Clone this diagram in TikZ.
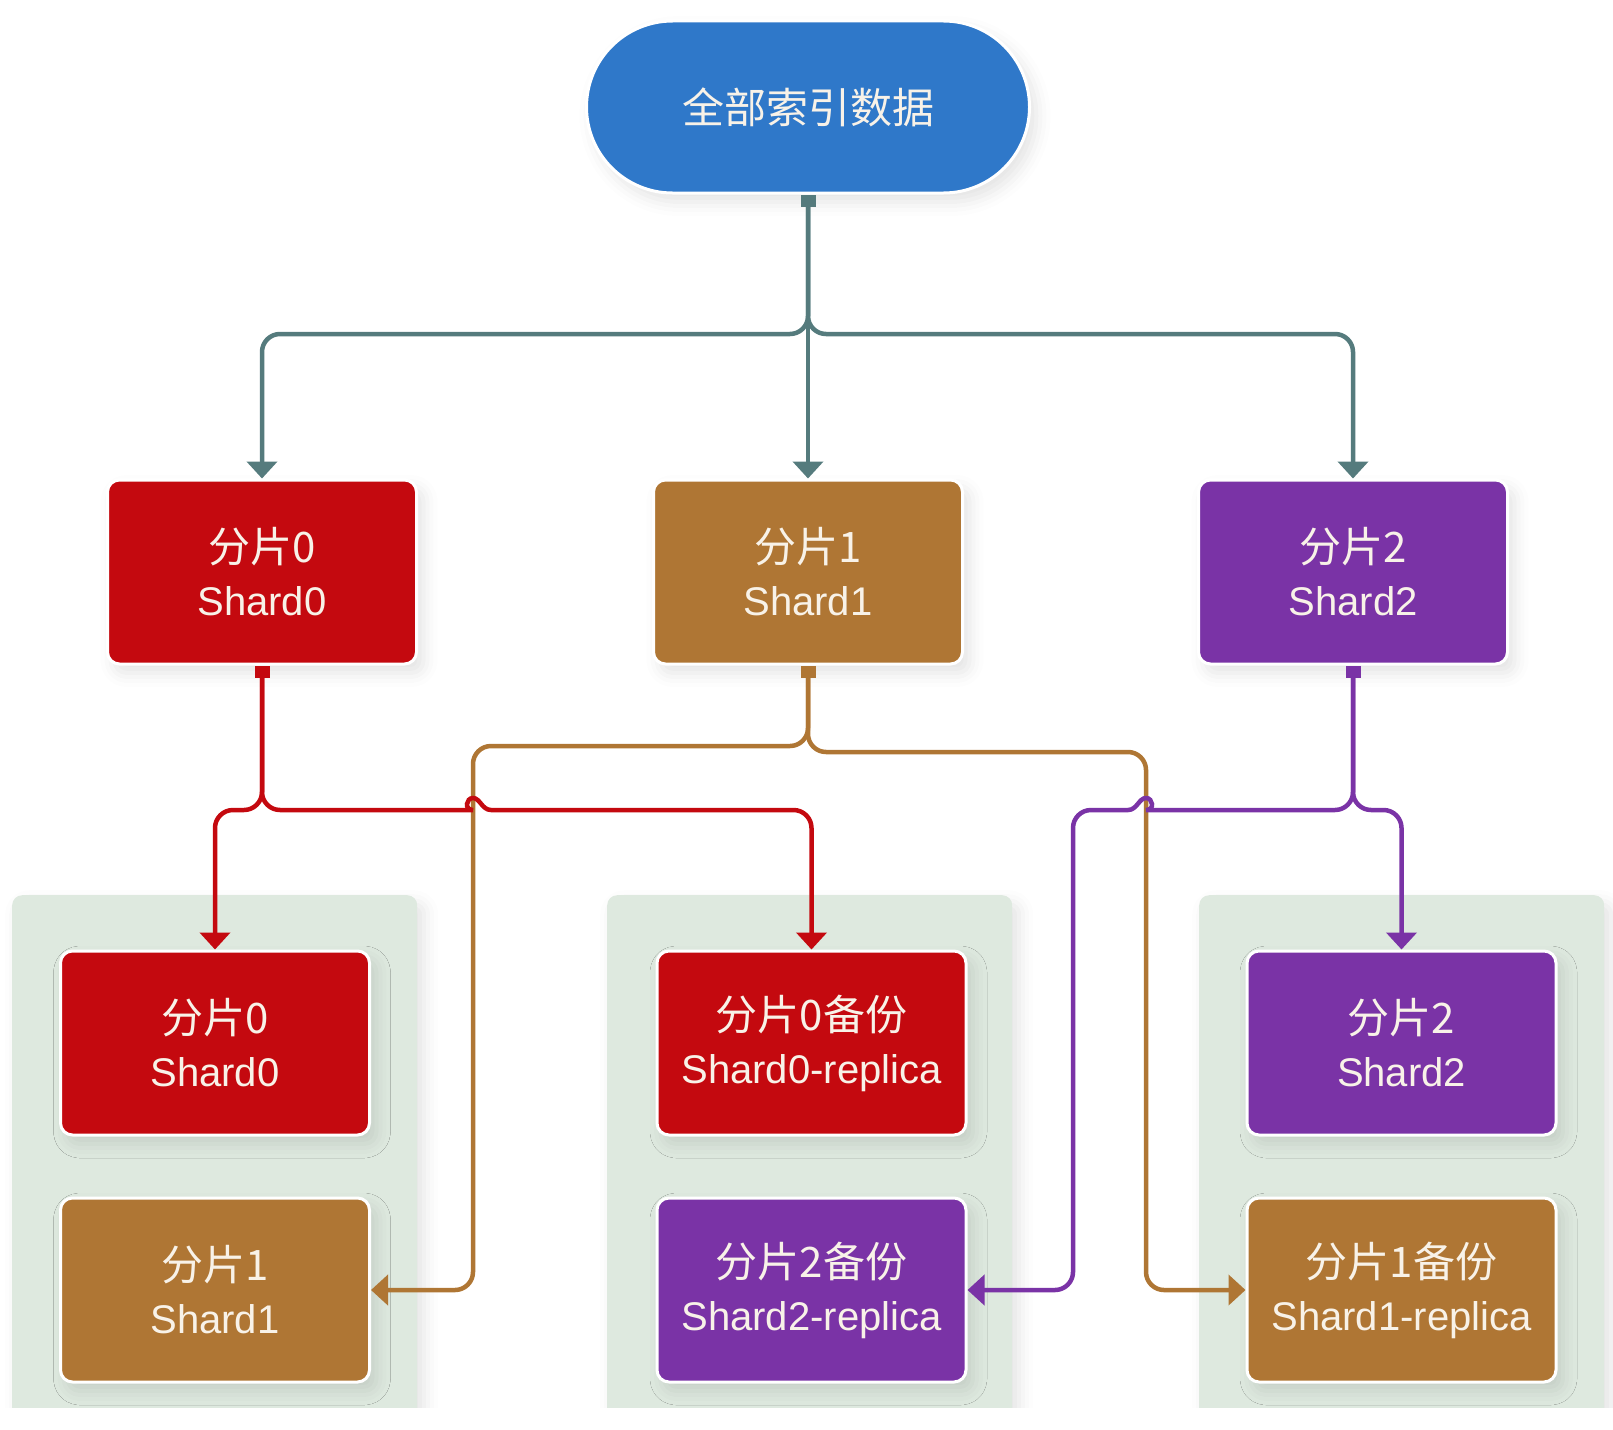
\documentclass[tikz,border=0pt]{standalone}
\usepackage{fontspec}
\setmainfont{Liberation Sans}
\newfontfamily\cjk{Noto Sans CJK SC}
\usetikzlibrary{arrows.meta,shadows.blur}

\definecolor{pillblue}{HTML}{2F78C9}
\definecolor{shred}{HTML}{C4090F}
\definecolor{shbrown}{HTML}{AF7634}
\definecolor{shpurple}{HTML}{7A33A6}
\definecolor{panelgreen}{HTML}{DEE9DF}
\definecolor{tealline}{HTML}{557B7D}
\definecolor{txtc}{HTML}{F8F2E8}

\newcommand{\cnline}[1]{{\fontsize{42}{53}\selectfont\cjk #1}}

\tikzset{
  softshadow/.style={blur shadow={shadow xshift=7pt, shadow yshift=-9pt,
      shadow blur radius=14pt, shadow opacity=11}},
  shardbox/.style={rectangle, rounded corners=12pt, minimum width=309pt,
      minimum height=184pt, draw=white, line width=3pt, text=txtc,
      align=center, inner sep=0pt, font=\fontsize{40}{53}\selectfont, softshadow},
  panelbox/.style={rectangle, rounded corners=10pt, fill=panelgreen,
      minimum width=405pt, minimum height=600pt, anchor=north west,
      inner sep=0pt, softshadow},
  conn/.style={line width=4.5pt, rounded corners=18pt,
      {Square[length=12pt,width=15pt]}-{Triangle[length=17pt,width=30pt]}},
}

\begin{document}
\begin{tikzpicture}[x=1pt,y=-1pt]
\useasboundingbox (0,0) rectangle (1613,1429);

% panels (cut at the bottom)
\begin{scope}
  \clip (-5,-5) rectangle (1620,1407);
  \node[panelbox] (p1) at (12,895) {};
  \node[panelbox] (p2) at (607,895) {};
  \node[panelbox] (p3) at (1199,895) {};
\end{scope}

% top node
\node[rectangle, rounded corners=86pt, minimum width=443pt, minimum height=172pt,
      fill=pillblue, draw=white, line width=3pt, text=txtc, inner sep=0pt, softshadow,
      font=\fontsize{42}{50}\selectfont\cjk] (top) at (808,107) {全部索引数据};

% level 2
\node[shardbox, fill=shred]    (s0) at (262,572)  {\cnline{分片0}\\Shard0};
\node[shardbox, fill=shbrown]  (s1) at (808,572)  {\cnline{分片1}\\Shard1};
\node[shardbox, fill=shpurple] (s2) at (1353,572) {\cnline{分片2}\\Shard2};

% level 3
\node[shardbox, fill=shred]    (a0) at (215,1043)   {\cnline{分片0}\\Shard0};
\node[shardbox, fill=shbrown]  (a1) at (215,1290)   {\cnline{分片1}\\Shard1};
\node[shardbox, fill=shred]    (b0) at (811.5,1043) {\cnline{分片0备份}\\Shard0-replica};
\node[shardbox, fill=shpurple] (b2) at (811.5,1290) {\cnline{分片2备份}\\Shard2-replica};
\node[shardbox, fill=shpurple] (c2) at (1401.5,1043){\cnline{分片2}\\Shard2};
\node[shardbox, fill=shbrown]  (c1) at (1401.5,1290){\cnline{分片1备份}\\Shard1-replica};

% bus levels and vertical runs
\coordinate (tealbus) at (0,334);
\coordinate (redbus) at (0,810);
\coordinate (brownbusL) at (0,746);
\coordinate (brownbusR) at (0,752);
\coordinate (bxL) at (473,0);
\coordinate (bxR) at (1146,0);
\coordinate (pxL) at (1073,0);

% teal connectors
\draw[conn, draw=tealline] (top.south) -- (top.south |- tealbus) -| (s0.north);
\draw[conn, draw=tealline] (top.south) -- (s1.north);
\draw[conn, draw=tealline] (top.south) -- (top.south |- tealbus) -| (s2.north);

% brown connectors
\draw[conn, draw=shbrown] (s1.south) -- (s1.south |- brownbusL) -| (bxL |- a1.east) -- (a1.east);
\draw[conn, draw=shbrown] (s1.south) -- (s1.south |- brownbusR) -| (bxR |- c1.west) -- (c1.west);

% red connectors
\draw[conn, draw=shred] (s0.south) -- (s0.south |- redbus) -| (a0.north);
\draw[conn, draw=shred] (s0.south) -- (s0.south |- redbus) -- (455,810)
   [sharp corners] .. controls (464,810) and (466,798) .. (473,798)
   .. controls (480,798) and (482,810) .. (491,810)
   [rounded corners=18pt] -- (b0.north |- redbus) -- (b0.north);

% purple connectors
\draw[conn, draw=shpurple] (s2.south) -- (s2.south |- redbus) -| (c2.north);
\draw[conn, draw=shpurple] (s2.south) -- (s2.south |- redbus) -- (1164,810)
   [sharp corners] .. controls (1155,810) and (1153,798) .. (1146,798)
   .. controls (1139,798) and (1137,810) .. (1128,810)
   [rounded corners=18pt] -- (pxL |- redbus) -- (pxL |- b2.east) -- (b2.east);
\end{tikzpicture}
\end{document}
